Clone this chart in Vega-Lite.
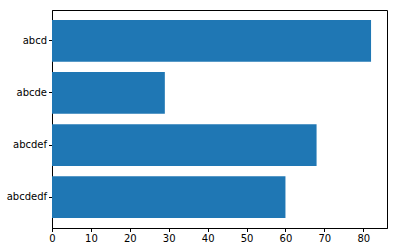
{
  "$schema": "https://vega.github.io/schema/vega-lite/v6.json",
  "width": 335,
  "height": 218,
  "autosize": {"type": "none"},
  "padding": {"left": 52, "top": 10, "right": 13, "bottom": 24},
  "background": "white",
  "config": {
    "view": {"stroke": "black", "strokeWidth": 1},
    "font": "DejaVu Sans",
    "axis": {
      "domainColor": "black",
      "tickColor": "black",
      "tickSize": 3.5,
      "labelColor": "black",
      "labelFontSize": 10,
      "labelFont": "DejaVu Sans",
      "grid": false,
      "title": null,
      "labelPadding": 2
    }
  },
  "data": {
    "values": [
      {"name": "abcd", "value": 82},
      {"name": "abcde", "value": 29},
      {"name": "abcdef", "value": 68},
      {"name": "abcdedf", "value": 60}
    ]
  },
  "mark": {"type": "bar", "color": "#1f77b4"},
  "encoding": {
    "y": {
      "field": "name",
      "type": "nominal",
      "sort": null,
      "scale": {"paddingInner": 0.2, "paddingOuter": 0.19},
      "axis": {"labelAngle": 0}
    },
    "x": {
      "field": "value",
      "type": "quantitative",
      "scale": {"domain": [0, 86.1], "nice": false, "zero": true},
      "axis": {"values": [0, 10, 20, 30, 40, 50, 60, 70, 80], "labelFlush": false}
    }
  }
}
